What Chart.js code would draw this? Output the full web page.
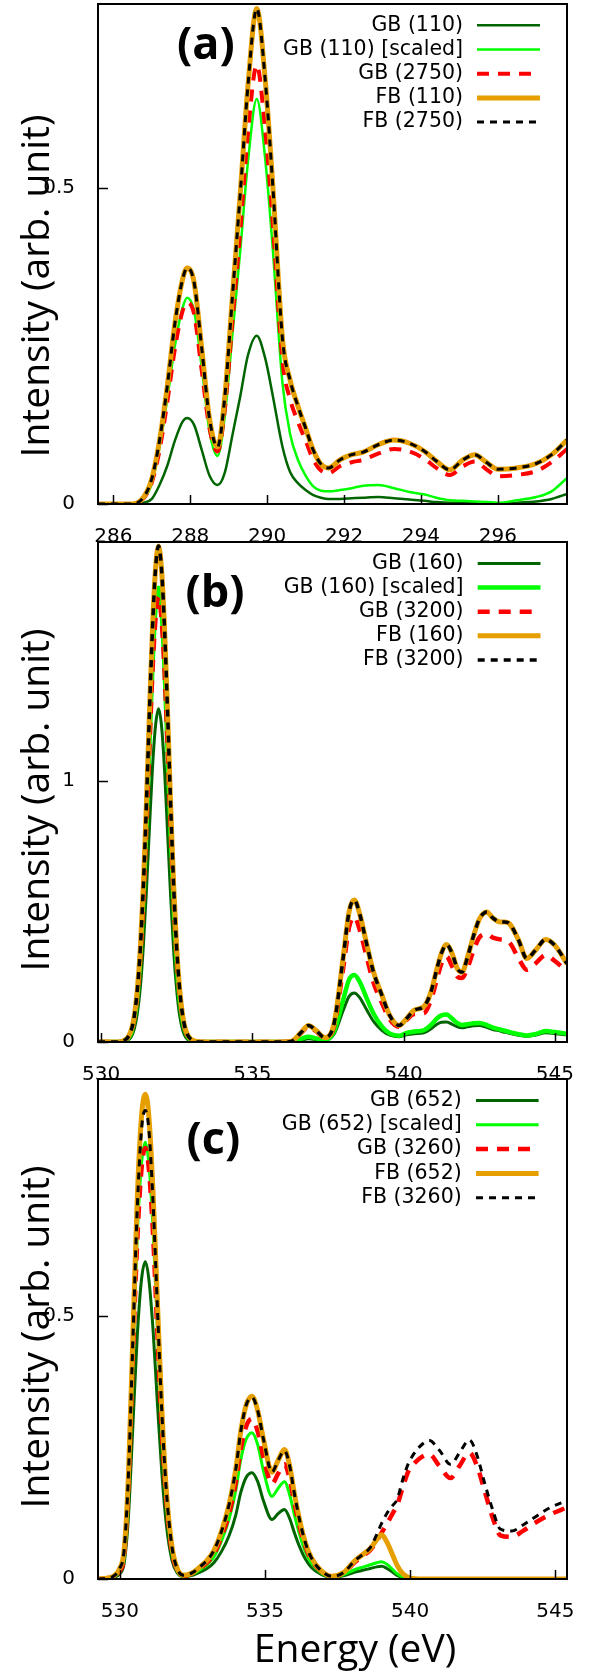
<!DOCTYPE html>
<html><head><meta charset="utf-8">
<script src="https://cdn.jsdelivr.net/npm/chart.js@4.4.1/dist/chart.umd.min.js"></script>
<style>
html,body{margin:0;padding:0;background:#fff;}
body{width:595px;height:1675px;position:relative;overflow:hidden;}
.box{position:absolute;left:0;width:595px;}
canvas{display:block;}
</style></head><body>
<div class="box" style="top:0px;height:545px"><canvas id="ca" width="595" height="545"></canvas></div>
<div class="box" style="top:537px;height:545px"><canvas id="cb" width="595" height="545"></canvas></div>
<div class="box" style="top:1072px;height:603px"><canvas id="cc" width="595" height="603"></canvas></div>
<script>
// ---------------- DATA ----------------
// Panel (a): C K-edge
const energyA = [285.6, 286.5, 286.8, 287.0, 287.2, 287.4, 287.6, 287.8, 287.92, 288.1, 288.3, 288.5, 288.71, 288.9, 289.1, 289.3, 289.5, 289.73, 289.95, 290.15, 290.4, 290.6, 290.8, 291.0, 291.2, 291.4, 291.6, 291.9, 292.2, 292.5, 292.9, 293.3, 293.7, 294.1, 294.4, 294.75, 295.1, 295.4, 295.7, 296.0, 296.5, 297.0, 297.4, 297.8];
const gbA       = [0, 0, 0.002, 0.008, 0.03, 0.06, 0.10, 0.13, 0.136, 0.125, 0.085, 0.045, 0.030, 0.05, 0.11, 0.17, 0.235, 0.266, 0.23, 0.17, 0.09, 0.05, 0.033, 0.022, 0.014, 0.010, 0.008, 0.008, 0.009, 0.010, 0.011, 0.009, 0.007, 0.005, 0.003, 0.002, 0.002, 0.001, 0.001, 0.001, 0.002, 0.004, 0.008, 0.016];
const gbScaledA = [0, 0, 0.009, 0.032, 0.09, 0.165, 0.25, 0.31, 0.326, 0.305, 0.215, 0.115, 0.076, 0.14, 0.27, 0.40, 0.54, 0.64, 0.545, 0.40, 0.19, 0.11, 0.07, 0.045, 0.028, 0.021, 0.020, 0.022, 0.025, 0.029, 0.030, 0.025, 0.019, 0.015, 0.010, 0.006, 0.005, 0.004, 0.003, 0.002, 0.006, 0.011, 0.020, 0.041];
const gbBigA    = [0, 0, 0.01, 0.034, 0.085, 0.16, 0.245, 0.305, 0.318, 0.30, 0.21, 0.12, 0.083, 0.15, 0.29, 0.43, 0.585, 0.693, 0.59, 0.44, 0.225, 0.165, 0.13, 0.10, 0.07, 0.053, 0.049, 0.060, 0.066, 0.070, 0.080, 0.087, 0.083, 0.071, 0.057, 0.046, 0.060, 0.067, 0.055, 0.044, 0.046, 0.052, 0.066, 0.087];
const fbA       = [0, 0, 0.012, 0.04, 0.10, 0.185, 0.285, 0.355, 0.373, 0.35, 0.245, 0.135, 0.09, 0.17, 0.33, 0.49, 0.66, 0.783, 0.67, 0.50, 0.26, 0.195, 0.155, 0.12, 0.085, 0.063, 0.057, 0.070, 0.078, 0.082, 0.094, 0.101, 0.096, 0.083, 0.068, 0.054, 0.070, 0.078, 0.066, 0.055, 0.057, 0.064, 0.078, 0.101];
const fbBigA    = [0, 0, 0.012, 0.04, 0.10, 0.185, 0.285, 0.355, 0.373, 0.35, 0.245, 0.135, 0.09, 0.17, 0.33, 0.49, 0.66, 0.783, 0.67, 0.50, 0.26, 0.195, 0.155, 0.12, 0.085, 0.063, 0.057, 0.070, 0.078, 0.082, 0.094, 0.101, 0.096, 0.083, 0.068, 0.054, 0.070, 0.078, 0.066, 0.055, 0.057, 0.064, 0.078, 0.101];
const labelsA = ['GB (110)', 'GB (110) [scaled]', 'GB (2750)', 'FB (110)', 'FB (2750)'];
const xTicksA = [286, 288, 290, 292, 294, 296];
const yTicksA = [0, 0.5];
const yTickLabelsA = ['0', '0.5'];

// Panel (b): O K-edge
const energyB = [529.9, 530.6, 530.8, 530.9, 531.0, 531.1, 531.2, 531.3, 531.4, 531.5, 531.6, 531.7, 531.8, 531.9, 532.0, 532.1, 532.2, 532.3, 532.4, 532.5, 532.6, 532.7, 532.8, 533.0, 533.3, 536.0, 536.3, 536.6, 536.86, 537.1, 537.39, 537.7, 538.0, 538.2, 538.37, 538.55, 538.77, 539.0, 539.28, 539.55, 539.85, 540.1, 540.35, 540.67, 540.9, 541.1, 541.25, 541.42, 541.6, 541.78, 541.93, 542.1, 542.31, 542.5, 542.75, 542.95, 543.19, 543.35, 543.51, 543.8, 544.07, 544.35, 544.7, 545.0, 545.4];
const gbB       = [0, 0, 0.002, 0.008, 0.02, 0.05, 0.11, 0.21, 0.37, 0.58, 0.82, 1.05, 1.21, 1.276, 1.21, 1.04, 0.80, 0.56, 0.35, 0.20, 0.10, 0.045, 0.018, 0.003, 0, 0, 0, 0.006, 0.012, 0.009, 0.006, 0.03, 0.12, 0.175, 0.188, 0.17, 0.125, 0.08, 0.045, 0.026, 0.02, 0.028, 0.032, 0.035, 0.05, 0.068, 0.076, 0.077, 0.068, 0.058, 0.055, 0.058, 0.062, 0.063, 0.056, 0.048, 0.042, 0.037, 0.033, 0.026, 0.022, 0.026, 0.035, 0.032, 0.027];
const gbScaledB = [0, 0, 0.005, 0.015, 0.035, 0.085, 0.17, 0.32, 0.54, 0.82, 1.14, 1.44, 1.66, 1.74, 1.65, 1.43, 1.12, 0.80, 0.52, 0.30, 0.16, 0.08, 0.035, 0.006, 0, 0, 0.001, 0.012, 0.02, 0.014, 0.008, 0.04, 0.16, 0.24, 0.257, 0.23, 0.17, 0.11, 0.06, 0.032, 0.024, 0.035, 0.04, 0.045, 0.065, 0.09, 0.102, 0.105, 0.09, 0.072, 0.065, 0.068, 0.072, 0.073, 0.065, 0.055, 0.048, 0.043, 0.038, 0.03, 0.025, 0.03, 0.042, 0.038, 0.032];
const gbBigB    = [0, 0, 0.007, 0.018, 0.04, 0.09, 0.18, 0.32, 0.54, 0.82, 1.13, 1.42, 1.62, 1.705, 1.62, 1.42, 1.13, 0.82, 0.54, 0.32, 0.18, 0.09, 0.04, 0.007, 0, 0, 0.003, 0.033, 0.06, 0.042, 0.016, 0.06, 0.28, 0.44, 0.479, 0.43, 0.33, 0.23, 0.15, 0.085, 0.058, 0.085, 0.107, 0.11, 0.16, 0.24, 0.30, 0.327, 0.29, 0.25, 0.245, 0.28, 0.35, 0.40, 0.413, 0.40, 0.393, 0.39, 0.38, 0.32, 0.277, 0.30, 0.333, 0.31, 0.27];
const fbB       = [0, 0, 0.008, 0.02, 0.045, 0.10, 0.20, 0.36, 0.60, 0.91, 1.26, 1.58, 1.81, 1.90, 1.81, 1.58, 1.26, 0.91, 0.60, 0.36, 0.20, 0.10, 0.045, 0.008, 0, 0, 0.003, 0.035, 0.063, 0.045, 0.017, 0.07, 0.32, 0.50, 0.544, 0.49, 0.38, 0.27, 0.18, 0.10, 0.063, 0.09, 0.122, 0.136, 0.19, 0.28, 0.34, 0.373, 0.34, 0.28, 0.267, 0.32, 0.406, 0.47, 0.498, 0.475, 0.46, 0.46, 0.452, 0.39, 0.32, 0.35, 0.393, 0.37, 0.30];
const fbBigB    = [0, 0, 0.008, 0.02, 0.045, 0.10, 0.20, 0.36, 0.60, 0.91, 1.26, 1.58, 1.81, 1.90, 1.81, 1.58, 1.26, 0.91, 0.60, 0.36, 0.20, 0.10, 0.045, 0.008, 0, 0, 0.003, 0.035, 0.063, 0.045, 0.017, 0.07, 0.32, 0.50, 0.544, 0.49, 0.38, 0.27, 0.18, 0.10, 0.063, 0.09, 0.122, 0.136, 0.19, 0.28, 0.34, 0.373, 0.34, 0.28, 0.267, 0.32, 0.406, 0.47, 0.498, 0.475, 0.46, 0.46, 0.452, 0.39, 0.32, 0.35, 0.393, 0.37, 0.30];
const labelsB = ['GB (160)', 'GB (160) [scaled]', 'GB (3200)', 'FB (160)', 'FB (3200)'];
const xTicksB = [530, 535, 540, 545];
const yTicksB = [0, 1];
const yTickLabelsB = ['0', '1'];

// Panel (c): O K-edge
const energyC = [529.25, 529.6, 529.8, 530.0, 530.15, 530.3, 530.45, 530.6, 530.75, 530.88, 531.0, 531.15, 531.3, 531.45, 531.6, 531.8, 532.0, 532.2, 532.5, 532.8, 533.0, 533.24, 533.5, 533.77, 534.0, 534.16, 534.35, 534.55, 534.75, 534.95, 535.24, 535.45, 535.67, 535.85, 536.0, 536.2, 536.39, 536.6, 536.92, 537.31, 537.7, 538.1, 538.4, 538.63, 538.85, 539.02, 539.2, 539.4, 539.55, 539.75, 539.94, 540.07, 540.3, 540.66, 541.0, 541.39, 541.7, 542.04, 542.3, 542.57, 542.85, 543.1, 543.49, 543.9, 544.28, 544.8, 545.4];
const gbC       = [0, 0.001, 0.003, 0.01, 0.03, 0.12, 0.29, 0.46, 0.57, 0.603, 0.57, 0.47, 0.33, 0.2, 0.105, 0.035, 0.01, 0.004, 0.007, 0.014, 0.02, 0.031, 0.052, 0.083, 0.123, 0.163, 0.193, 0.202, 0.185, 0.148, 0.113, 0.124, 0.132, 0.115, 0.09, 0.06, 0.038, 0.022, 0.009, 0.003, 0.006, 0.013, 0.017, 0.02, 0.023, 0.024, 0.02, 0.013, 0.007, 0.003, 0.001, 0, 0, 0, 0, 0, 0, 0, 0, 0, 0, 0, 0, 0, 0, 0, 0];
const gbScaledC = [0, 0.002, 0.005, 0.015, 0.045, 0.18, 0.42, 0.65, 0.79, 0.83, 0.79, 0.66, 0.47, 0.29, 0.15, 0.05, 0.014, 0.005, 0.009, 0.019, 0.027, 0.042, 0.072, 0.115, 0.17, 0.225, 0.265, 0.278, 0.255, 0.205, 0.157, 0.172, 0.185, 0.16, 0.125, 0.083, 0.052, 0.03, 0.012, 0.004, 0.008, 0.018, 0.023, 0.027, 0.031, 0.033, 0.028, 0.018, 0.01, 0.004, 0.001, 0, 0, 0, 0, 0, 0, 0, 0, 0, 0, 0, 0, 0, 0, 0, 0];
const gbBigC    = [0, 0.002, 0.005, 0.015, 0.045, 0.18, 0.42, 0.64, 0.78, 0.819, 0.78, 0.65, 0.46, 0.28, 0.15, 0.05, 0.015, 0.006, 0.011, 0.022, 0.031, 0.047, 0.08, 0.125, 0.185, 0.245, 0.29, 0.304, 0.28, 0.23, 0.181, 0.20, 0.218, 0.19, 0.148, 0.098, 0.062, 0.036, 0.015, 0.005, 0.011, 0.032, 0.045, 0.055, 0.072, 0.088, 0.105, 0.125, 0.14, 0.175, 0.205, 0.215, 0.228, 0.237, 0.215, 0.192, 0.215, 0.240, 0.215, 0.166, 0.115, 0.083, 0.080, 0.092, 0.106, 0.122, 0.136];
const fbC       = [0, 0.002, 0.006, 0.02, 0.055, 0.2, 0.46, 0.72, 0.88, 0.921, 0.88, 0.73, 0.52, 0.32, 0.17, 0.06, 0.017, 0.007, 0.012, 0.025, 0.035, 0.054, 0.09, 0.143, 0.21, 0.278, 0.33, 0.347, 0.32, 0.265, 0.203, 0.225, 0.246, 0.215, 0.166, 0.11, 0.069, 0.04, 0.0165, 0.005, 0.012, 0.035, 0.048, 0.058, 0.075, 0.084, 0.07, 0.045, 0.026, 0.01, 0.003, 0.001, 0, 0, 0, 0, 0, 0, 0, 0, 0, 0, 0, 0, 0, 0, 0];
const fbBigC    = [0, 0.002, 0.006, 0.02, 0.055, 0.2, 0.45, 0.70, 0.855, 0.89, 0.855, 0.71, 0.51, 0.315, 0.17, 0.06, 0.017, 0.007, 0.012, 0.025, 0.035, 0.054, 0.09, 0.143, 0.21, 0.278, 0.33, 0.345, 0.32, 0.265, 0.203, 0.225, 0.244, 0.215, 0.166, 0.11, 0.069, 0.04, 0.0165, 0.005, 0.012, 0.035, 0.048, 0.06, 0.085, 0.106, 0.125, 0.14, 0.151, 0.19, 0.22, 0.233, 0.25, 0.263, 0.245, 0.218, 0.24, 0.264, 0.235, 0.181, 0.13, 0.095, 0.091, 0.103, 0.117, 0.135, 0.149];
const labelsC = ['GB (652)', 'GB (652) [scaled]', 'GB (3260)', 'FB (652)', 'FB (3260)'];
const xTicksC = [530, 535, 540, 545];
const yTicksC = [0, 0.5];
const yTickLabelsC = ['0', '0.5'];

const yTitle = 'Intensity (arb. unit)';
const xTitle = 'Energy (eV)';

// ---------------- STYLE ----------------
const colors = ['#006400', '#00ff00', '#ff0000', '#e69f00', '#000000'];
const dashes = [[], [], [12, 9], [], [7, 6]];
const orders = [5, 4, 3, 2, 1];

function pts(xs, ys) { return xs.map((x, i) => ({x: x, y: ys[i]})); }

const decor = {
  id: 'decor',
  afterDatasetsDraw(chart, args, o) {
    const ctx = chart.ctx, a = chart.chartArea, xs = chart.scales.x, ys = chart.scales.y;
    ctx.save();
    ctx.strokeStyle = '#000';
    ctx.lineWidth = 1.5;
    xs.ticks.forEach(t => {
      const p = Math.round(xs.getPixelForValue(t.value)) + 0.5;
      ctx.beginPath(); ctx.moveTo(p, a.bottom); ctx.lineTo(p, a.bottom - 9); ctx.stroke();
    });
    ys.ticks.forEach(t => {
      const p = Math.round(ys.getPixelForValue(t.value)) + 0.5;
      ctx.beginPath(); ctx.moveTo(a.left, p); ctx.lineTo(a.left + 10, p); ctx.stroke();
    });
    ctx.lineWidth = 2;
    ctx.strokeRect(a.left, a.top, a.right - a.left, a.bottom - a.top);
    // legend
    ctx.font = '20.5px "DejaVu Sans"';
    ctx.textAlign = 'right';
    ctx.textBaseline = 'middle';
    chart.data.datasets.forEach((d, i) => {
      const y = o.legTop + i * o.legGap;
      ctx.fillStyle = '#000';
      ctx.fillText(d.label, o.legText, y);
      ctx.beginPath();
      ctx.strokeStyle = d.borderColor;
      ctx.lineWidth = d.borderWidth;
      ctx.setLineDash(d.borderDash || []);
      ctx.moveTo(o.legX0, y); ctx.lineTo(o.legX1, y); ctx.stroke();
      ctx.setLineDash([]);
    });
    // panel label
    ctx.fillStyle = '#000';
    ctx.textAlign = 'left';
    ctx.textBaseline = 'alphabetic';
    ctx.font = 'bold 45px "Open Sans"';
    ctx.fillText(o.tag, o.tagX, o.tagY);
    // y title
    ctx.font = '39px "Open Sans"';
    ctx.save();
    ctx.translate(o.yTitleX, o.yTitleY);
    ctx.rotate(-Math.PI / 2);
    ctx.textAlign = 'center';
    ctx.fillText(yTitle, 0, 0);
    ctx.restore();
    if (o.xTitle) {
      ctx.textAlign = 'center';
      ctx.fillText(xTitle, o.xTitleX, o.xTitleY);
    }
    ctx.restore();
  }
};

function zeroPad(s) { s.paddingTop = 0; s.paddingBottom = 0; s.paddingLeft = 0; s.paddingRight = 0; }

function makeChart(id, cfg) {
  const datasets = cfg.series.map((s, i) => ({
    label: cfg.labels[i],
    data: pts(cfg.energy, s),
    borderColor: colors[i],
    borderWidth: cfg.widths[i],
    borderDash: dashes[i],
    order: orders[i],
    pointRadius: 0,
    fill: false,
    cubicInterpolationMode: 'monotone'
  }));
  return new Chart(document.getElementById(id), {
    type: 'line',
    data: {datasets: datasets},
    plugins: [decor],
    options: {
      responsive: false,
      animation: false,
      devicePixelRatio: 1,
      layout: {padding: {top: cfg.padTop, right: 28, left: 0, bottom: 0}},
      plugins: {legend: {display: false}, tooltip: {enabled: false}, decor: cfg.decor},
      scales: {
        x: {
          type: 'linear', min: cfg.xMin, max: cfg.xMax,
          grid: {display: false}, border: {display: false},
          afterBuildTicks: s => { s.ticks = cfg.xTicks.map(v => ({value: v})); },
          afterFit: s => { s.height = cfg.xAxisH; zeroPad(s); },
          ticks: {font: {family: 'DejaVu Sans', size: 20}, color: '#000', padding: 13, maxRotation: 0,
                  callback: (v) => String(v)}
        },
        y: {
          type: 'linear', min: 0, max: cfg.yMax,
          grid: {display: false}, border: {display: false},
          afterBuildTicks: s => { s.ticks = cfg.yTicks.map(v => ({value: v})); },
          afterFit: s => { s.width = 98; zeroPad(s); },
          ticks: {font: {family: 'DejaVu Sans', size: 20}, color: '#000', padding: 15,
                  callback: (v, i) => cfg.yTickLabels[i]}
        }
      }
    }
  });
}

makeChart('ca', {
  energy: energyA, series: [gbA, gbScaledA, gbBigA, fbA, fbBigA], labels: labelsA,
  widths: [2.5, 2.5, 4, 5, 3], xMin: 285.6, xMax: 297.8, yMax: 0.79,
  xTicks: xTicksA, yTicks: yTicksA, yTickLabels: yTickLabelsA, padTop: 4, xAxisH: 41,
  decor: {legTop: 25.3, legGap: 24.2, legText: 463, legX0: 477, legX1: 540,
          tag: '(a)', tagX: 177, tagY: 58.5, yTitleX: 48.7, yTitleY: 286}
});
makeChart('cb', {
  energy: energyB, series: [gbB, gbScaledB, gbBigB, fbB, fbBigB], labels: labelsB,
  widths: [3, 4.5, 4.5, 5, 3.5], xMin: 529.9, xMax: 545.4, yMax: 1.915,
  xTicks: xTicksB, yTicks: yTicksB, yTickLabels: yTickLabelsB, padTop: 5, xAxisH: 40,
  decor: {legTop: 26.4, legGap: 24.15, legText: 463.6, legX0: 477.7, legX1: 540.5,
          tag: '(b)', tagX: 185.4, tagY: 70.4, yTitleX: 48.7, yTitleY: 263}
});
makeChart('cc', {
  energy: energyC, series: [gbC, gbScaledC, gbBigC, fbC, fbBigC], labels: labelsC,
  widths: [3, 3, 4.5, 5, 3], xMin: 529.25, xMax: 545.4, yMax: 0.95,
  xTicks: xTicksC, yTicks: yTicksC, yTickLabels: yTickLabelsC, padTop: 7, xAxisH: 96,
  decor: {legTop: 28.5, legGap: 24.3, legText: 461.7, legX0: 476, legX1: 538.6,
          tag: '(c)', tagX: 186.5, tagY: 82.3, yTitleX: 48.7, yTitleY: 265,
          xTitle: true, xTitleX: 355, xTitleY: 589.7}
});
</script>
</body></html>
